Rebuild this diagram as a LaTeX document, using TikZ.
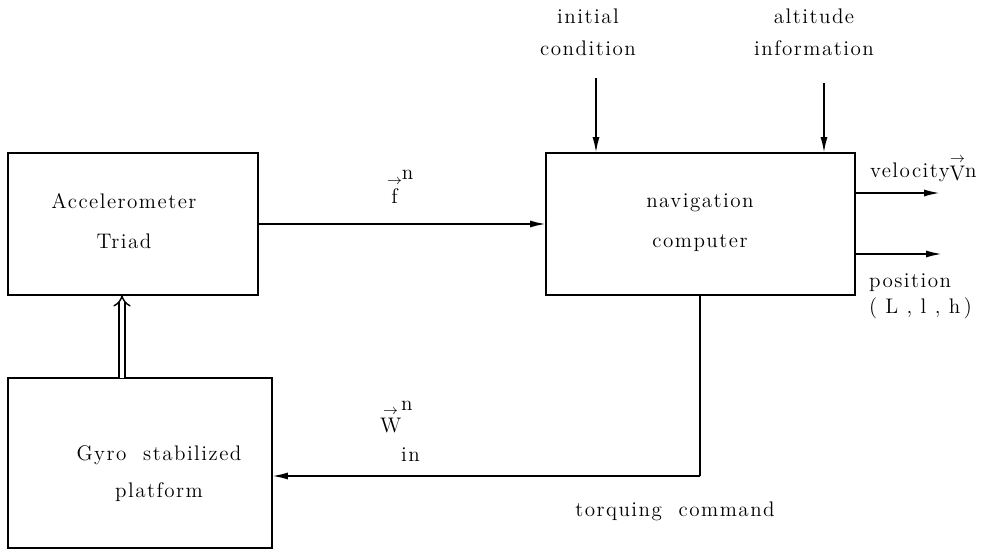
\documentclass[tikz,border=0pt]{standalone}
\usepackage{fontspec}
\setmainfont{lmroman12-regular}[Extension=.otf, LetterSpace=7]
\usetikzlibrary{arrows.meta}

\begin{document}
\begin{tikzpicture}[x=0.02cm, y=-0.02cm]
\tikzset{ >={Latex[length=9pt,width=4pt]}, inner sep=0pt, outer sep=0pt,
  font=\fontsize{12}{14.4}\selectfont,
  blk/.style={draw, line width=1.1pt, minimum height=2.84cm},
  sig/.style={->, line width=1.1pt},
  dbl/.style={double, double distance=2.6pt, line width=0.8pt, -{Implies}},
  txt/.style={align=center, anchor=base},
}

\useasboundingbox (0,0) rectangle (992,551);
%\draw [lightgray, dashed](0,0) grid[step=50] (992,551);

\node [blk, minimum width=5.00cm] (acc) at (133,224) { };
\node [blk, minimum width=6.18cm] (nav) at (700.5,224) { };
\node [blk, minimum width=5.28cm, minimum height=3.4cm] (gyro) at (140,463) { };

% base anchor = last line
\node [txt] (acctxt) at (124,248) {Accelerometer\\[8pt]Triad};
\node [txt] (navtxt) at (700,247) {navigation\\[8pt]computer};
\node [txt] (gyrotxt) at (159,497) {Gyro\ \ stabilized\\[6.5pt]platform};

\node [txt] (ictxt) at (588,55) {initial\\[3.5pt]condition};
\node [txt] (aitxt) at (814,55) {altitude\\[3.5pt]information};

\coordinate (ic) at (596,78);
\coordinate (ai) at (824,83);
\coordinate (vel) at (940,193);
\coordinate (pos) at (942,254);
\coordinate (tq) at (700,476);
\coordinate (up) at (122,0);

\draw [sig] (acc) -- (nav);
\draw [sig] (ic) -- (ic |- nav.north);
\draw [sig] (ai) -- (ai |- nav.north);
\draw [sig] (nav.east |- vel) -- (vel);
\draw [sig] (nav.east |- pos) -- (pos);
\draw [line width=1.1pt] (nav.south -| tq) -- (tq);
\draw [sig] (tq) -- (gyro.east |- tq);
\draw [dbl] (gyro.north -| up) -- (acc.south -| up);

\node [anchor=base west] (veltxt) at (870,177)
  {velocity\raisebox{-2pt}{$\stackrel{\rightarrow}{\mbox{V}}$}n};
\node [txt, anchor=base west, align=left] (postxt) at (869,313)
  {position\\[0pt](\ L\ ,\ l\ ,\ h\,)};

\node [anchor=base west] (flbl) at (387,203)
  {$\mathord{\stackrel{\rightarrow}{\mbox{f}}}^{\raisebox{2pt}{n}}$};
\node [anchor=base west] (wlbl) at (380,432)
  {$\mathord{\stackrel{\rightarrow}{\mbox{W}}}^{\raisebox{1pt}{n}}_{\raisebox{-14pt}{in}}$};
\node [txt] (tqtxt) at (675,516) {torquing\ \ command};

\end{tikzpicture}
\end{document}
